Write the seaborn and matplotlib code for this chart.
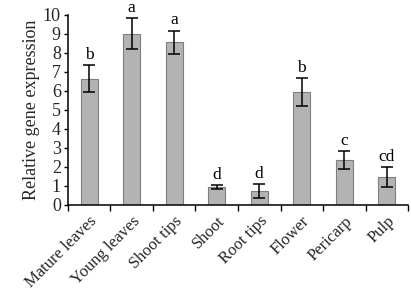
import matplotlib
matplotlib.use("Agg")
import matplotlib.pyplot as plt
import seaborn as sns
import numpy as np
import pandas as pd
from matplotlib.ticker import FixedLocator

categories = ["Mature leaves", "Young leaves", "Shoot tips", "Shoot", "Root tips",
              "Flower", "Pericarp", "Pulp"]
values = [6.65, 9.02, 8.57, 0.94, 0.72, 5.94, 2.35, 1.47]
errors = [0.70, 0.82, 0.60, 0.10, 0.38, 0.73, 0.47, 0.53]
letters = ["b", "a", "a", "d", "d", "b", "c", "cd"]
yticks = list(range(0, 11))

sns.set_theme(style="ticks")
plt.rcParams["font.family"] = ["Liberation Serif", "DejaVu Serif"]

df = pd.DataFrame({"tissue": categories, "expr": values})

fig = plt.figure(figsize=(4.11, 2.94), dpi=100)
ax = fig.add_axes([0.165, 0.303, 0.828, 0.646])

sns.barplot(data=df, x="tissue", y="expr", ax=ax, color="#b3b3b3",
            edgecolor="#7f7f7f", linewidth=0.8, width=0.4, saturation=1)
xs = np.arange(len(categories))
ax.errorbar(xs, values, yerr=errors, fmt="none", ecolor="black",
            elinewidth=1.1, capsize=4, capthick=1.1)
for x, v, e, l in zip(xs, values, errors, letters):
    ax.text(x, v + e + 0.12, l, ha="center", va="bottom", fontsize=12.5,
            color="black")

ax.set_xlim(-0.5, len(categories) - 0.5)
ax.set_ylim(0, 10)
ax.set_yticks(yticks)
ax.set_yticklabels([str(t) for t in yticks], fontsize=13)
ax.set_xticks(xs)
ax.set_xticklabels(categories, rotation=45, ha="right", rotation_mode="anchor",
                   fontsize=12)
ax.tick_params(axis="x", which="major", length=0, pad=6)
ax.xaxis.set_minor_locator(FixedLocator(np.arange(-0.5, len(categories), 1.0)))
ax.tick_params(axis="x", which="minor", length=4, width=1, color="black",
               direction="out")
ax.tick_params(axis="y", length=3, width=1, color="black", pad=2)
ax.set_xlabel("")
ax.set_ylabel("Relative gene expression", fontsize=13, labelpad=2)
sns.despine(ax=ax)
for s in ["left", "bottom"]:
    ax.spines[s].set_color("black")
    ax.spines[s].set_linewidth(1.1)

fig.savefig("out.png", dpi=100)
